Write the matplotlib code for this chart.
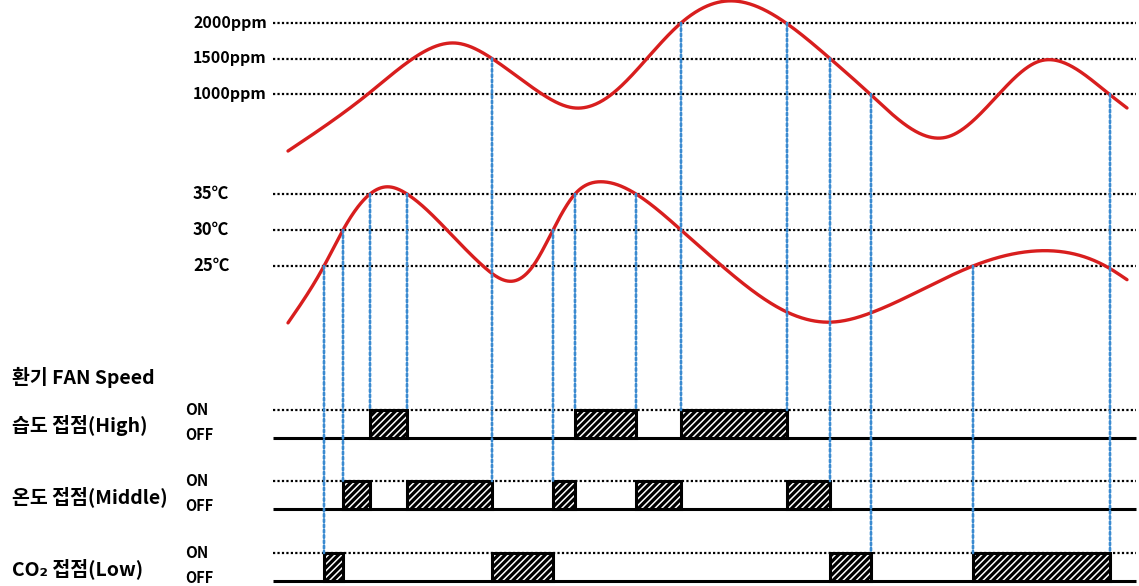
import numpy as np
import matplotlib
matplotlib.use("Agg")
import matplotlib.pyplot as plt
from matplotlib.patches import ConnectionPatch

plt.rcParams['font.family'] = ['Noto Sans CJK KR', 'DejaVu Sans']
plt.rcParams['hatch.linewidth'] = 2.3

# ---------------- data ----------------
co2_time = [288, 368, 413, 455, 492, 542, 575, 612, 647, 681, 727, 786, 830, 870, 947, 999, 1040, 1109, 1127]
co2_ppm = [197, 1000, 1500, 1718, 1500, 1000, 803, 1000, 1500, 2000, 2310, 2000, 1500, 1000, 394, 1000, 1465, 1000, 803]

temp_time = [288, 324, 343, 370, 387, 407, 447, 483, 513, 533, 553, 575, 600, 636, 681, 722, 787, 830, 871, 973, 1037, 1108, 1127]
temp_c = [17.1, 25, 30, 35, 36.0, 35, 30, 25, 22.9, 25, 30, 35, 36.7, 35, 30, 25, 18.6, 17.2, 18.5, 25, 27.1, 24.8, 23.1]

co2_levels = [2000, 1500, 1000]
co2_labels = ['2000ppm', '1500ppm', '1000ppm']
temp_levels = [35, 30, 25]
temp_labels = ['35℃', '30℃', '25℃']

switch_names = ['습도 접점(High)', '온도 접점(Middle)', 'CO₂ 접점(Low)']
state_labels = ['ON', 'OFF']
title_label = '환기 FAN Speed'

high_on = [(370, 407), (575, 636), (681, 787)]
middle_on = [(343, 370), (407, 492), (553, 575), (636, 681), (787, 830)]
low_on = [(324, 343), (492, 553), (830, 871), (973, 1110)]

# (time, source curve, threshold, target switch)
markers = [
    (324, 'temp', 25, 'low'), (343, 'temp', 30, 'middle'), (370, 'temp', 35, 'high'),
    (407, 'temp', 35, 'high'), (492, 'co2', 1500, 'middle'), (553, 'temp', 30, 'middle'),
    (575, 'temp', 35, 'high'), (636, 'temp', 35, 'high'), (681, 'co2', 2000, 'high'),
    (787, 'co2', 2000, 'high'), (830, 'co2', 1500, 'middle'), (871, 'co2', 1000, 'low'),
    (973, 'temp', 25, 'low'), (1110, 'co2', 1000, 'low'),
]

# ---------------- helpers ----------------
def natural_spline(x, y, xs):
    x = np.asarray(x, float); y = np.asarray(y, float)
    n = len(x)
    h = np.diff(x)
    A = np.zeros((n, n)); r = np.zeros(n)
    A[0, 0] = 1; A[-1, -1] = 1
    for i in range(1, n - 1):
        A[i, i - 1] = h[i - 1]
        A[i, i] = 2 * (h[i - 1] + h[i])
        A[i, i + 1] = h[i]
        r[i] = 3 * ((y[i + 1] - y[i]) / h[i] - (y[i] - y[i - 1]) / h[i - 1])
    c = np.linalg.solve(A, r)
    b = (y[1:] - y[:-1]) / h - h * (2 * c[:-1] + c[1:]) / 3
    d = (c[1:] - c[:-1]) / (3 * h)
    idx = np.clip(np.searchsorted(x, xs) - 1, 0, n - 2)
    t = xs - x[idx]
    return y[idx] + b[idx] * t + c[idx] * t**2 + d[idx] * t**3

W, H = 1139, 586
fig = plt.figure(figsize=(W / 100, H / 100), dpi=100)

def px_axes(top, bottom, v_top, px_top, v_bot, px_bot):
    ax = fig.add_axes([0, 1 - bottom / H, 1, (bottom - top) / H])
    slope = (v_top - v_bot) / (px_bot - px_top)
    ax.set_ylim(v_bot - (bottom - px_bot) * slope, v_top + (px_top - top) * slope)
    ax.set_xlim(0, W)
    ax.axis('off')
    return ax

ax_co2 = px_axes(0, 165, 2000, 23, 1000, 94)
ax_t = px_axes(170, 340, 35, 194, 25, 266)
ax_high = px_axes(380, 452, 1, 410, 0, 438)
ax_mid = px_axes(455, 522, 1, 481, 0, 509)
ax_low = px_axes(528, 586, 1, 553, 0, 581)

RED = '#d81e1e'
BLUE = '#3a8ad0'
LINE_X0, LINE_X1 = 273, 1136
LABEL_X = 193
DOT = (0, (1, 1))

# CO2 panel
ax_co2.hlines(co2_levels, LINE_X0, LINE_X1, colors='black', linestyles=DOT, lw=1.6)
xs = np.linspace(co2_time[0], co2_time[-1], 1200)
ax_co2.plot(xs, natural_spline(co2_time, co2_ppm, xs), color=RED, lw=2.4, clip_on=False,
            zorder=4, solid_capstyle='round')
for v, lab in zip(co2_levels, co2_labels):
    ax_co2.text(LABEL_X, v, lab, va='center', ha='left', fontsize=11.5, fontweight='bold')

# Temperature panel
ax_t.hlines(temp_levels, LINE_X0, LINE_X1, colors='black', linestyles=DOT, lw=1.6)
xs = np.linspace(temp_time[0], temp_time[-1], 1200)
ax_t.plot(xs, natural_spline(temp_time, temp_c, xs), color=RED, lw=2.4, clip_on=False,
          zorder=4, solid_capstyle='round')
for v, lab in zip(temp_levels, temp_labels):
    ax_t.text(LABEL_X, v, lab, va='center', ha='left', fontsize=12, fontweight='bold')

# Switch panels
switch_axes = {'high': ax_high, 'middle': ax_mid, 'low': ax_low}
switch_data = [high_on, middle_on, low_on]
for ax, name, intervals in zip([ax_high, ax_mid, ax_low], switch_names, switch_data):
    ax.hlines(1, LINE_X0, LINE_X1, colors='black', linestyles=DOT, lw=1.6)
    ax.hlines(0, LINE_X0, LINE_X1, colors='black', linestyles='solid', lw=2.2)
    starts = [a for a, b in intervals]
    widths = [b - a for a, b in intervals]
    ax.bar(starts, 1, width=widths, bottom=0, align='edge', facecolor='white',
           edgecolor='black', hatch='/////', lw=2.2, zorder=3, clip_on=False)
    ax.text(12, 0.45, name, va='center', ha='left', fontsize=14, fontweight='bold')
    ax.text(185, 1.0, state_labels[0], va='center', ha='left', fontsize=11, fontweight='bold')
    ax.text(185, 0.12, state_labels[1], va='center', ha='left', fontsize=10.5, fontweight='bold')

fig.text(12 / W, 1 - 377 / H, title_label, va='center', ha='left', fontsize=14,
         fontweight='bold')

# Vertical guide lines
src_axes = {'co2': ax_co2, 'temp': ax_t}
for t, src, thr, dst in markers:
    con = ConnectionPatch(xyA=(t, thr), coordsA=src_axes[src].transData,
                          xyB=(t, 1), coordsB=switch_axes[dst].transData,
                          color=BLUE, lw=1.9, linestyle=DOT, zorder=5)
    fig.add_artist(con)

fig.savefig('out.png', dpi=100, facecolor='white')
